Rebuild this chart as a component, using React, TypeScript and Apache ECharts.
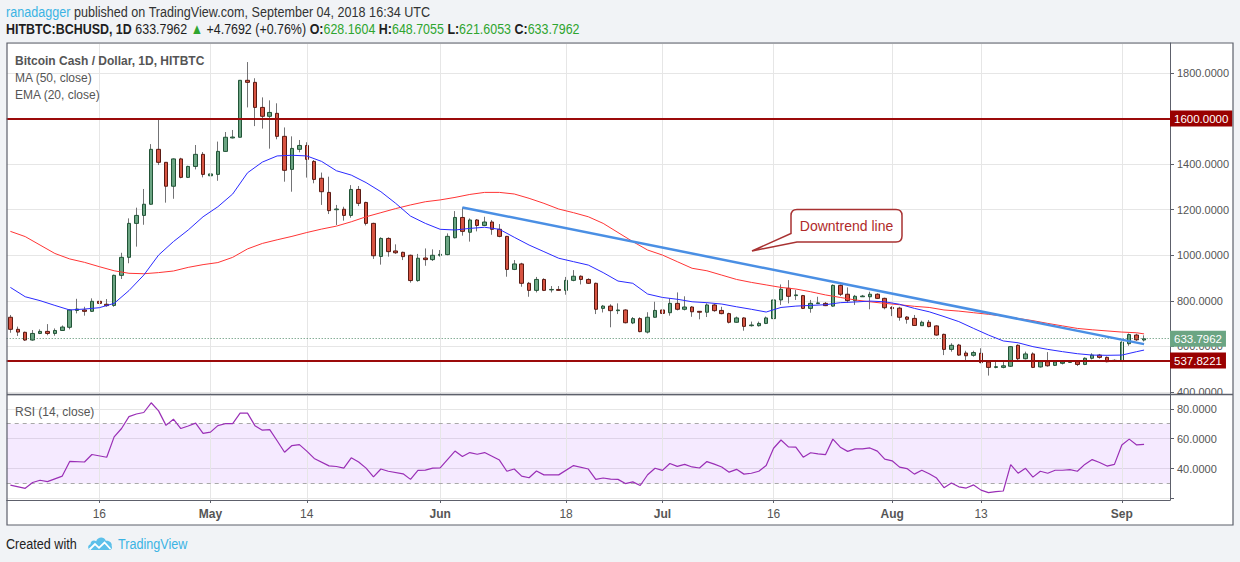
import React, { useEffect, useRef } from "react";
import * as echarts from "echarts";

// ---------- data ----------
const START_UTC = Date.UTC(2018, 3, 4); // first candle: 2018-04-04
const TOTAL_SLOTS = 157; // 154 candles + 3 empty days on the right

const opens = [
  728, 675, 662, 628, 657, 666, 657, 670, 684, 758, 760, 754, 798, 785, 780, 912, 991, 1140, 1175, 1224,
  1465, 1408, 1303, 1423, 1342, 1390, 1443, 1349, 1355, 1456, 1515, 1518, 1768, 1759, 1649, 1610, 1623, 1522, 1377, 1465,
  1482, 1412, 1338, 1276, 1200, 1202, 1175, 1289, 1232, 1140, 995, 1074, 1019, 1013, 1000, 889, 988, 981, 1000, 1003,
  1077, 1166, 1101, 1155, 1131, 1146, 1114, 1083, 938, 962, 877, 846, 894, 848, 850, 846, 890, 908, 894, 877,
  767, 777, 757, 760, 703, 722, 663, 728, 760, 748, 789, 763, 773, 754, 750, 782, 758, 744, 706, 725,
  691, 691, 701, 722, 804, 855, 823, 823, 767, 788, 789, 777, 868, 829, 801, 818, 818, 829, 811, 771,
  768, 729, 723, 691, 706, 690, 653, 587, 606, 571, 561, 570, 532, 508, 508, 513, 605, 546, 567, 510,
  533, 517, 526, 530, 533, 521, 548, 562, 552, 536, 536, 612, 650, 628.1604,
];
const highs = [
  738, 687, 665, 672, 675, 698, 679, 692, 763, 809, 774, 811, 815, 808, 915, 1011, 1162, 1209, 1291, 1488,
  1594, 1409, 1425, 1428, 1393, 1484, 1453, 1374, 1499, 1541, 1550, 1769, 1848, 1777, 1693, 1680, 1667, 1561, 1522, 1506,
  1496, 1418, 1363, 1345, 1221, 1213, 1308, 1304, 1235, 1143, 1079, 1079, 1048, 1016, 1003, 1006, 1030, 1026, 1023, 1096,
  1194, 1210, 1162, 1159, 1169, 1155, 1137, 1085, 979, 967, 883, 905, 899, 865, 865, 905, 935, 912, 899, 880,
  782, 785, 789, 763, 729, 728, 750, 796, 767, 811, 837, 820, 777, 755, 789, 786, 774, 748, 731, 728,
  709, 709, 731, 807, 872, 891, 848, 826, 804, 818, 795, 872, 872, 859, 826, 826, 840, 833, 814, 777,
  774, 733, 738, 713, 716, 693, 656, 614, 611, 581, 581, 592, 536, 536, 536, 602, 609, 577, 574, 537,
  575, 533, 537, 540, 537, 552, 570, 567, 556, 543, 622, 657, 656, 648.7055,
];
const lows = [
  660, 646, 624, 625, 654, 649, 647, 668, 675, 745, 735, 751, 774, 774, 774, 896, 965, 1038, 1134, 1222,
  1396, 1231, 1248, 1338, 1339, 1377, 1342, 1262, 1327, 1455, 1513, 1518, 1649, 1567, 1556, 1468, 1509, 1323, 1279, 1452,
  1341, 1316, 1221, 1181, 1133, 1152, 1165, 1216, 1131, 984, 959, 994, 1006, 979, 880, 884, 954, 975, 994, 1000,
  1074, 1086, 1060, 1105, 1128, 1090, 1079, 906, 935, 862, 818, 837, 843, 837, 845, 827, 886, 872, 874, 742,
  749, 684, 742, 701, 698, 662, 657, 726, 742, 735, 758, 758, 730, 719, 729, 752, 741, 701, 704, 669,
  687, 687, 698, 716, 782, 789, 804, 764, 748, 786, 777, 774, 821, 792, 782, 817, 763, 808, 763, 733,
  713, 700, 690, 690, 684, 647, 562, 577, 559, 540, 555, 526, 472, 504, 504, 510, 540, 543, 505, 507,
  511, 514, 521, 529, 514, 518, 543, 546, 530, 533, 534, 603, 624, 621.6053,
];
const closes = [
  675, 663, 628, 657, 666, 657, 670, 685, 760, 764, 754, 798, 789, 779, 912, 991, 1140, 1175, 1224, 1465,
  1408, 1303, 1423, 1342, 1390, 1443, 1355, 1357, 1456, 1518, 1519, 1768, 1759, 1649, 1610, 1627, 1522, 1373, 1469, 1482,
  1421, 1333, 1279, 1196, 1203, 1175, 1289, 1228, 1140, 998, 1074, 1016, 1011, 994, 889, 987, 981, 1000, 1004, 1083,
  1166, 1105, 1155, 1131, 1146, 1114, 1083, 938, 962, 877, 846, 894, 846, 850, 846, 890, 908, 894, 877, 763,
  777, 757, 760, 704, 722, 665, 728, 758, 745, 789, 763, 773, 752, 750, 782, 757, 744, 706, 725, 688,
  694, 701, 725, 804, 851, 820, 826, 767, 789, 791, 779, 868, 829, 801, 820, 821, 829, 811, 770, 766,
  728, 719, 692, 706, 687, 650, 587, 605, 562, 559, 573, 529, 508, 511, 515, 599, 546, 567, 508, 533,
  515, 532, 532, 533, 521, 548, 562, 552, 533, 539, 619, 652, 629.03, 633.7962,
];

// [candle index, value]
const ma50Points = [
  [0, 1105], [2, 1082], [4, 1045], [6, 1008], [8, 984], [10, 969], [12, 950], [14, 932], [16, 921], [18, 919],
  [20, 924], [22, 931], [24, 947], [26, 959], [28, 968], [30, 991], [32, 1028], [34, 1052], [36, 1068], [38, 1083],
  [40, 1100], [42, 1115], [44, 1128], [46, 1147], [48, 1169], [50, 1187], [52, 1205], [54, 1221], [56, 1235], [58, 1243],
  [60, 1254], [62, 1267], [64, 1276], [66, 1276], [68, 1269], [70, 1250], [72, 1228], [74, 1203], [76, 1187], [78, 1169],
  [80, 1140], [82, 1100], [84, 1060], [86, 1023], [88, 1001], [90, 972], [92, 943], [94, 932], [96, 913], [98, 894],
  [100, 881], [102, 870], [104, 859], [106, 852], [108, 840], [110, 826], [112, 815], [114, 804], [116, 796], [118, 789],
  [120, 783], [122, 776], [124, 771], [126, 760], [128, 755], [130, 748], [132, 741], [134, 733], [136, 723], [138, 713],
  [140, 701], [142, 690], [144, 679], [146, 673], [148, 668], [150, 663], [152, 660], [153, 655],
];
const ema20Points = [
  [0, 859], [2, 818], [4, 801], [6, 780], [8, 760], [10, 764], [12, 770], [14, 789], [16, 845], [18, 913],
  [20, 1001], [22, 1060], [24, 1111], [26, 1169], [28, 1213], [30, 1269], [32, 1362], [34, 1409], [36, 1436], [38, 1439],
  [40, 1436], [42, 1412], [44, 1371], [46, 1352], [48, 1319], [50, 1279], [52, 1228], [54, 1172], [56, 1140], [58, 1114],
  [60, 1111], [62, 1118], [64, 1123], [66, 1114], [68, 1079], [70, 1045], [72, 1016], [74, 987], [76, 972], [78, 957],
  [80, 924], [82, 887], [84, 877], [86, 830], [88, 815], [90, 807], [92, 796], [94, 792], [96, 786], [98, 774],
  [100, 763], [102, 751], [104, 771], [106, 777], [108, 780], [110, 783], [112, 792], [114, 795], [116, 799], [118, 796],
  [120, 785], [122, 767], [124, 752], [126, 731], [128, 709], [130, 679], [132, 650], [134, 624], [136, 616], [138, 599],
  [140, 587], [142, 577], [144, 568], [146, 562], [148, 561], [150, 562], [152, 577], [153, 584],
];
const rsiPoints = [
  [0, 28.9], [2, 26.8], [3, 30.7], [4, 32.2], [5, 31.3], [7, 35], [8, 44.8], [10, 44.4], [11, 49.4], [13, 47.6],
  [14, 61.2], [15, 66.8], [16, 74.7], [17, 76.5], [18, 77.5], [19, 84], [20, 78.6], [21, 68.9], [22, 73], [23, 66.8],
  [24, 68.5], [25, 70.4], [26, 63.6], [27, 64.4], [28, 68.7], [29, 70], [30, 70], [31, 77.1], [32, 77.1], [33, 68.7],
  [34, 65.7], [35, 66.1], [36, 58.6], [37, 50.9], [38, 55.4], [39, 56], [40, 51.7], [41, 46.8], [43, 41.8], [44, 41.4],
  [45, 40.3], [46, 47.2], [47, 44.4], [48, 40.3], [49, 34.5], [50, 39.7], [51, 38.2], [53, 36.5], [54, 32.8], [55, 38.8],
  [56, 39], [57, 40.3], [58, 40.5], [60, 51.7], [61, 48.1], [62, 50.7], [63, 49.6], [64, 50.7], [66, 45.7], [67, 38.2],
  [68, 39.7], [69, 35], [70, 33.9], [71, 38.4], [72, 35.8], [74, 35.8], [76, 42], [78, 39.7], [79, 32.8], [80, 33.7],
  [81, 33.0], [82, 32.8], [83, 30.0], [84, 31.1], [85, 28.7], [86, 35.9], [87, 40.2], [88, 38.8], [89, 43.4], [90, 41.5],
  [91, 42.8], [92, 41.1], [93, 40.4], [94, 44.7], [95, 43.0], [96, 41.1], [97, 37.6], [98, 39.5], [99, 36.3], [100, 36.9],
  [101, 38.2], [102, 42.1], [103, 53.6], [104, 59.1], [105, 54.5], [106, 54.3], [107, 47.6], [108, 50.6], [109, 49.9], [110, 49.3],
  [111, 59.7], [112, 54.3], [113, 51.5], [114, 53.2], [115, 53.2], [116, 53.8], [117, 51.7], [118, 46.3], [119, 45.2], [120, 41],
  [121, 40], [122, 36.3], [123, 38.9], [124, 36.5], [125, 33.7], [126, 27.2], [127, 30.4], [128, 27.8], [129, 27.0], [130, 29.1],
  [131, 25.6], [132, 23.9], [133, 24.6], [134, 25.0], [135, 42.6], [136, 36.9], [137, 40.2], [138, 34.3], [139, 38.2], [140, 36.9],
  [141, 38.9], [142, 38.9], [143, 39.3], [144, 38.2], [145, 42.8], [146, 46.0], [147, 44.1], [148, 41.7], [149, 42.8], [150, 55.8],
  [151, 59.7], [152, 55.8], [153, 56.2],
];
const trendPoints = [[61, 1210], [153, 610]];

const resistance = 1600;
const support = 537.8221;
const lastPrice = 633.7962;

const xLabels: Record<string, string> = {
  "2018-04-16": "16",
  "2018-05-01": "May",
  "2018-05-14": "14",
  "2018-06-01": "Jun",
  "2018-06-18": "18",
  "2018-07-01": "Jul",
  "2018-07-16": "16",
  "2018-08-01": "Aug",
  "2018-08-13": "13",
  "2018-09-01": "Sep",
};
const monthNames = ["May", "Jun", "Jul", "Aug", "Sep"];

// ---------- helpers ----------
const dates: string[] = Array.from({ length: TOTAL_SLOTS }, (_, i) =>
  new Date(START_UTC + i * 86400000).toISOString().slice(0, 10)
);
const gridDates = Object.keys(xLabels);

const SANS = '"Liberation Sans", Arial, sans-serif';
const NARROW_SCALE = 0.84;

const balloonD =
  "M797 209.5 L896 209.5 Q902 209.5 902 215.5 L902 236 Q902 242 896 242 L797 242 L752 251 L791 233.5 L791 215.5 Q791 209.5 797 209.5 Z";
const cloudD =
  "M91 550 C87.5 550 87.2 545 90.5 544.3 C90.3 540.8 94 539.6 96.2 541.3 C97.6 536.6 104.2 536.2 105.8 540.8 C109.3 540.3 112.6 543 111.6 546 C112.8 548.4 111.2 550 109 550 Z";

let shapesRegistered = false;
function registerShapes() {
  if (shapesRegistered) return;
  echarts.graphic.registerShape("balloon", echarts.graphic.extendPath(balloonD, {}));
  echarts.graphic.registerShape("tvcloud", echarts.graphic.extendPath(cloudD, {}));
  shapesRegistered = true;
}

export default function App() {
  const ref = useRef<HTMLDivElement>(null);

  useEffect(() => {
    if (!ref.current) return;
    registerShapes();
    const chart = echarts.init(ref.current, null, { renderer: "svg" });

    const bodies = opens.map((o, i) => [o, closes[i], Math.min(o, closes[i]), Math.max(o, closes[i])]);
    const wicks = opens.map((o, i) => [o, closes[i], lows[i], highs[i]]);

    const gridLeft = 6.7;
    const gridWidth = 1163.3;

    const vLines = gridDates.map((d) => ({ xAxis: d }));
    const levelLabel = (txt: string, bg: string) => ({
      show: true,
      position: "end",
      formatter: txt,
      backgroundColor: bg,
      color: "#ffffff",
      fontSize: 11.5,
      fontFamily: SANS,
      lineHeight: 13,
      padding: [2, 4, 1, 4],
      distance: 0,
    });

    const option: any = {
      animation: false,
      backgroundColor: "#f1f3f6",
      textStyle: { fontFamily: SANS },
      grid: [
        { left: gridLeft, top: 43, width: gridWidth, height: 351 },
        { left: gridLeft, top: 395, width: gridWidth, height: 105 },
      ],
      xAxis: [
        {
          type: "category",
          gridIndex: 0,
          data: dates,
          boundaryGap: true,
          axisLine: { show: false },
          axisTick: { show: false },
          axisLabel: { show: false },
          splitLine: { show: false },
        },
        {
          type: "category",
          gridIndex: 1,
          data: dates,
          boundaryGap: true,
          axisLine: { show: true, lineStyle: { color: "#5d606b", width: 1 } },
          axisTick: {
            show: true,
            alignWithLabel: true,
            length: 3,
            lineStyle: { color: "#5d606b" },
            interval: (_i: number, v: string) => xLabels[v] !== undefined,
          },
          axisLabel: {
            show: true,
            color: "#555555",
            fontSize: 12,
            margin: 8,
            interval: (_i: number, v: string) => xLabels[v] !== undefined,
            formatter: (v: string) => {
              const t = xLabels[v] || "";
              return monthNames.indexOf(t) >= 0 ? "{b|" + t + "}" : t;
            },
            rich: { b: { fontWeight: "bold", color: "#555555", fontSize: 12 } },
          },
          splitLine: { show: false },
        },
      ],
      yAxis: [
        {
          type: "value",
          gridIndex: 0,
          position: "right",
          min: 391.2,
          max: 1931.7,
          splitNumber: 8,
          axisLine: { show: true, lineStyle: { color: "#5d606b" } },
          axisTick: { show: true, length: 4, lineStyle: { color: "#5d606b" } },
          axisLabel: {
            color: "#555555",
            fontSize: 11,
            margin: 7,
            showMinLabel: false,
            showMaxLabel: false,
            // the 1600 level is fully covered by its own label box
            formatter: (v: number) => (v === resistance ? "" : v.toFixed(4)),
          },
          splitLine: { show: true, lineStyle: { color: "#e6e6e6", width: 1 } },
        },
        {
          type: "value",
          gridIndex: 1,
          position: "right",
          min: 19,
          max: 89.2,
          splitNumber: 4,
          axisLine: { show: true, lineStyle: { color: "#5d606b" } },
          axisTick: { show: true, length: 4, lineStyle: { color: "#5d606b" } },
          axisLabel: {
            color: "#555555",
            fontSize: 11,
            margin: 7,
            showMinLabel: false,
            showMaxLabel: false,
            formatter: (v: number) => (v >= 30 ? v.toFixed(4) : ""),
          },
          splitLine: { show: true, lineStyle: { color: "#e6e6e6", width: 1 } },
        },
      ],
      series: [
        {
          name: "vgrid-main",
          type: "line",
          xAxisIndex: 0,
          yAxisIndex: 0,
          data: [],
          z: 1,
          silent: true,
          markLine: {
            silent: true,
            symbol: "none",
            label: { show: false },
            lineStyle: { color: "#e6e6e6", width: 1, type: "solid" },
            data: vLines,
          },
        },
        {
          name: "vgrid-rsi",
          type: "line",
          xAxisIndex: 1,
          yAxisIndex: 1,
          data: [],
          z: 1,
          silent: true,
          markLine: {
            silent: true,
            symbol: "none",
            label: { show: false },
            lineStyle: { color: "#e6e6e6", width: 1, type: "solid" },
            data: vLines,
          },
        },
        {
          name: "wicks",
          type: "candlestick",
          xAxisIndex: 0,
          yAxisIndex: 0,
          data: wicks,
          barWidth: 1,
          z: 3,
          silent: true,
          itemStyle: {
            color: "#737375",
            color0: "#737375",
            borderColor: "#737375",
            borderColor0: "#737375",
            borderWidth: 1,
          },
        },
        {
          name: "BCHUSD",
          type: "candlestick",
          xAxisIndex: 0,
          yAxisIndex: 0,
          data: bodies,
          barWidth: 4,
          z: 4,
          silent: true,
          itemStyle: {
            color: "#6ba583",
            color0: "#d75442",
            borderColor: "#225437",
            borderColor0: "#5b1a13",
            borderWidth: 1,
          },
          markLine: {
            silent: true,
            symbol: "none",
            data: [
              {
                yAxis: resistance,
                lineStyle: { color: "#9b0a0a", width: 2, type: "solid" },
                label: levelLabel(resistance.toFixed(4), "#990000"),
              },
              {
                yAxis: support,
                lineStyle: { color: "#9b0a0a", width: 2, type: "solid" },
                label: levelLabel(support.toFixed(4), "#990000"),
              },
              {
                yAxis: lastPrice,
                lineStyle: { color: "#4f8a68", width: 1, type: [1, 2] },
                label: levelLabel(lastPrice.toFixed(4), "#6ba583"),
              },
            ],
          },
        },
        {
          name: "MA (50, close)",
          type: "line",
          xAxisIndex: 0,
          yAxisIndex: 0,
          data: ma50Points,
          symbol: "none",
          z: 5,
          silent: true,
          lineStyle: { color: "#ff3535", width: 1 },
        },
        {
          name: "EMA (20, close)",
          type: "line",
          xAxisIndex: 0,
          yAxisIndex: 0,
          data: ema20Points,
          symbol: "none",
          z: 5,
          silent: true,
          lineStyle: { color: "#2a2aff", width: 1 },
        },
        {
          name: "Downtrend line",
          type: "line",
          xAxisIndex: 0,
          yAxisIndex: 0,
          data: trendPoints,
          symbol: "none",
          z: 6,
          silent: true,
          lineStyle: { color: "#4a8fe4", width: 2.5 },
        },
        {
          name: "RSI (14, close)",
          type: "line",
          xAxisIndex: 1,
          yAxisIndex: 1,
          data: rsiPoints,
          symbol: "none",
          connectNulls: true,
          z: 5,
          silent: true,
          lineStyle: { color: "#9a2fb6", width: 1.2 },
          markArea: {
            silent: true,
            itemStyle: { color: "rgba(153, 51, 255, 0.1)" },
            data: [[{ yAxis: 30 }, { yAxis: 70 }]],
          },
          markLine: {
            silent: true,
            symbol: "none",
            label: { show: false },
            lineStyle: { color: "#a8a8a8", width: 1, type: [4, 4] },
            data: [{ yAxis: 70 }, { yAxis: 30 }],
          },
        },
      ],
      graphic: {
        elements: [
          {
            type: "rect",
            z: -10,
            silent: true,
            shape: { x: 7, y: 43, width: 1226, height: 482 },
            style: { fill: "#ffffff" },
          },
          // cover bottom of clipped 400 label in the axis column
          {
            type: "rect",
            z: 50,
            silent: true,
            shape: { x: 1171, y: 394.5, width: 62, height: 6 },
            style: { fill: "#ffffff" },
          },
          {
            type: "line",
            z: 60,
            silent: true,
            shape: { x1: 7, y1: 394.5, x2: 1233, y2: 394.5 },
            style: { stroke: "#5d606b", lineWidth: 1.5 },
          },
          {
            type: "rect",
            z: 100,
            silent: true,
            shape: { x: 7, y: 43, width: 1226, height: 482 },
            style: { fill: "none", stroke: "#5d606b", lineWidth: 1.2 },
          },
          // header
          {
            type: "text",
            z: 100,
            x: 6,
            y: 12,
            scaleX: NARROW_SCALE,
            style: {
              text: "{a|ranadagger} published on TradingView.com, September 04, 2018 16:34 UTC",
              font: "15px " + SANS,
              fill: "#333333",
              verticalAlign: "middle",
              align: "left",
              rich: { a: { font: "15px " + SANS, fill: "#3bb3e4" } },
            },
          },
          {
            type: "text",
            z: 100,
            x: 6,
            y: 29,
            scaleX: 0.83,
            style: {
              text:
                "{b|HITBTC:BCHUSD, 1D} 633.7962 {g|▲} +4.7692 (+0.76%) {b|O:}{g|628.1604} {b|H:}{g|648.7055} {b|L:}{g|621.6053} {b|C:}{g|633.7962}",
              font: "15px " + SANS,
              fill: "#1e1e1e",
              verticalAlign: "middle",
              align: "left",
              rich: {
                b: { font: "bold 15px " + SANS, fill: "#1e1e1e" },
                g: { font: "15px " + SANS, fill: "#2fa52f" },
              },
            },
          },
          // legend inside pane
          {
            type: "text",
            z: 100,
            x: 15,
            y: 61,
            style: {
              text: "Bitcoin Cash / Dollar, 1D, HITBTC",
              font: "bold 12px " + SANS,
              fill: "#555555",
              verticalAlign: "middle",
            },
          },
          {
            type: "text",
            z: 100,
            x: 15,
            y: 78,
            style: { text: "MA (50, close)", font: "12px " + SANS, fill: "#555555", verticalAlign: "middle" },
          },
          {
            type: "text",
            z: 100,
            x: 15,
            y: 95,
            style: { text: "EMA (20, close)", font: "12px " + SANS, fill: "#555555", verticalAlign: "middle" },
          },
          {
            type: "text",
            z: 100,
            x: 15,
            y: 412,
            style: { text: "RSI (14, close)", font: "12px " + SANS, fill: "#555555", verticalAlign: "middle" },
          },
          // callout
          {
            type: "balloon",
            z: 100,
            x: 0,
            y: 0,
            silent: true,
            style: { fill: "#ffffff", stroke: "#a83232", lineWidth: 1.5 },
          },
          {
            type: "text",
            z: 101,
            x: 846.5,
            y: 225.5,
            style: {
              text: "Downtrend line",
              font: "14px " + SANS,
              fill: "#b02a2a",
              align: "center",
              verticalAlign: "middle",
            },
          },
          // footer
          {
            type: "text",
            z: 100,
            x: 6,
            y: 544,
            scaleX: NARROW_SCALE,
            style: { text: "Created with", font: "15px " + SANS, fill: "#222222", verticalAlign: "middle" },
          },
          {
            type: "tvcloud",
            z: 100,
            x: 0,
            y: 0,
            silent: true,
            style: { fill: "#5cc0ea", stroke: "none" },
          },
          {
            type: "polyline",
            z: 101,
            silent: true,
            shape: {
              points: [
                [89.5, 549.5],
                [95, 544],
                [99, 547.8],
                [104.5, 542.5],
                [110.5, 549],
              ],
            },
            style: { stroke: "#ffffff", lineWidth: 1.8, fill: "none" },
          },
          {
            type: "text",
            z: 100,
            x: 118,
            y: 544,
            scaleX: NARROW_SCALE,
            style: { text: "TradingView", font: "15px " + SANS, fill: "#3bb3e4", verticalAlign: "middle" },
          },
        ],
      },
    };

    chart.setOption(option);
    return () => chart.dispose();
  }, []);

  return (
    <div
      ref={ref}
      style={{ position: "absolute", left: 0, top: 0, width: 1240, height: 562 }}
    />
  );
}
